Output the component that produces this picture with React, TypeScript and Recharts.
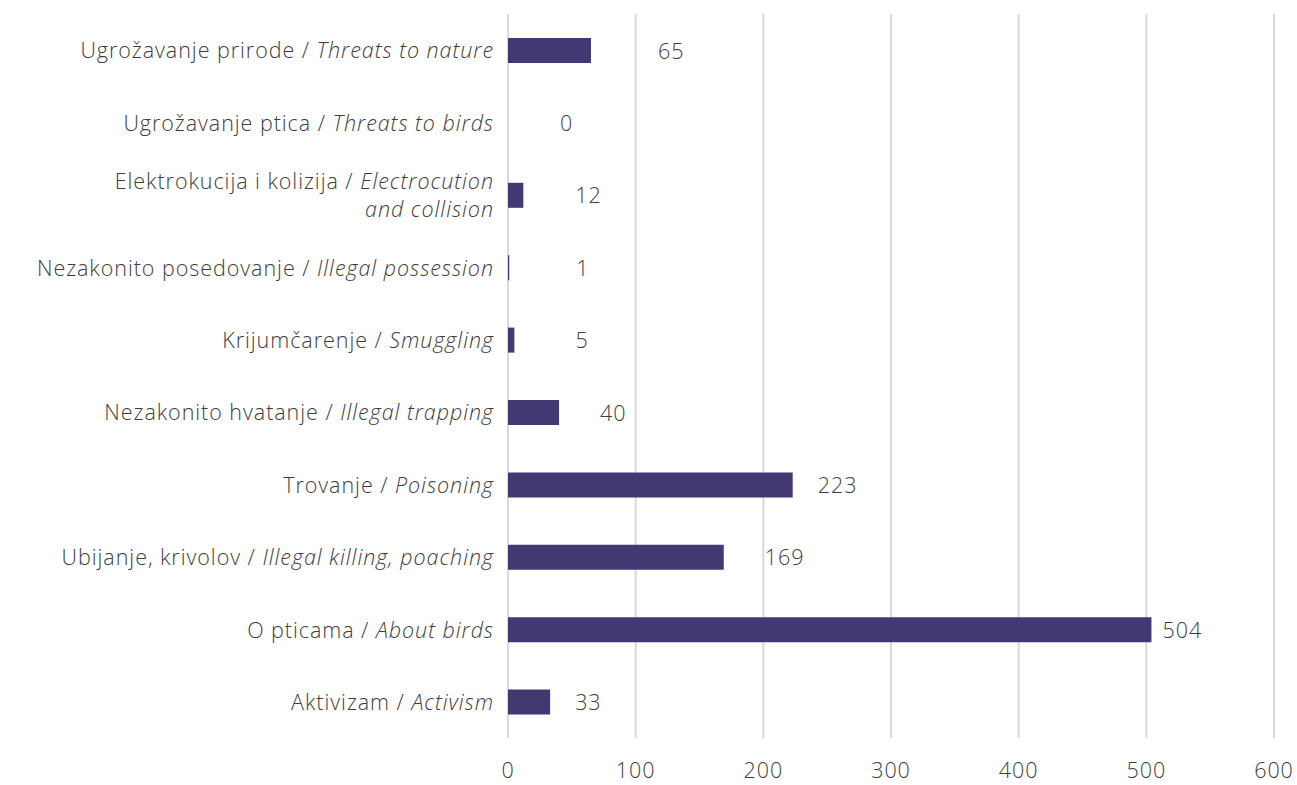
import { Bar, BarChart, CartesianGrid, LabelList, XAxis, YAxis } from "recharts";

const CATEGORIES_SR = [
  "Ugrožavanje prirode",
  "Ugrožavanje ptica",
  "Elektrokucija i kolizija",
  "Nezakonito posedovanje",
  "Krijumčarenje",
  "Nezakonito hvatanje",
  "Trovanje",
  "Ubijanje, krivolov",
  "O pticama",
  "Aktivizam",
];

const CATEGORIES_EN = [
  "Threats to nature",
  "Threats to birds",
  "Electrocution\nand collision",
  "Illegal possession",
  "Smuggling",
  "Illegal trapping",
  "Poisoning",
  "Illegal killing, poaching",
  "About birds",
  "Activism",
];

const CASES = [65, 0, 12, 1, 5, 40, 223, 169, 504, 33];

const X_TICKS = [0, 100, 200, 300, 400, 500, 600];

// how far each value label sits from its bar end (as in the original)
const LABEL_DX = [67, 52, 52, 67, 61, 41, 25, 41, 11, 25];

const data = CATEGORIES_SR.map((sr, i) => ({
  sr,
  en: CATEGORIES_EN[i],
  key: sr,
  value: CASES[i],
}));

const FONT = "'Open Sans', Lato, sans-serif";
const TEXT = "#3d3d3d";
const BAR = "#433871";
const FS = 21.5;
const LS = 0.95;

function CategoryTick(props: any) {
  const { x, y, index } = props;
  const row = data[index];
  if (!row) return null;
  const enLines = row.en.split("\n");
  const common = {
    textAnchor: "end" as const,
    fontFamily: FONT,
    fontWeight: 300,
    fontSize: FS,
    letterSpacing: LS,
    fill: TEXT,
  };
  if (enLines.length === 1) {
    return (
      <text x={x} y={y} dy="0.38em" {...common}>
        <tspan>{row.sr} / </tspan>
        <tspan fontStyle="italic">{enLines[0]}</tspan>
      </text>
    );
  }
  return (
    <text x={x} y={y} {...common}>
      <tspan x={x} dy="-0.27em">
        {row.sr} / <tspan fontStyle="italic">{enLines[0]}</tspan>
      </tspan>
      <tspan x={x} dy="1.28em" fontStyle="italic">
        {enLines.slice(1).join(" ")}
      </tspan>
    </text>
  );
}

function ValueLabel(props: any) {
  const { x, y, width, height, value, index } = props;
  return (
    <text
      x={x + width + (LABEL_DX[index] ?? 30)}
      y={y + height / 2}
      dy="0.38em"
      fontFamily={FONT}
      fontWeight={300}
      fontSize={FS}
      letterSpacing={LS}
      fill={TEXT}
    >
      {value}
    </text>
  );
}

export default function App() {
  return (
    <div style={{ position: "absolute", left: 0, top: 0, background: "#fff" }}>
      <BarChart
        width={1297}
        height={785}
        data={data}
        layout="vertical"
        margin={{ top: 14, right: 23, bottom: 0, left: 0 }}
        barCategoryGap={0}
      >
        <CartesianGrid horizontal={false} vertical stroke="#d9d9d9" strokeWidth={2} />
        <XAxis
          type="number"
          domain={[0, 600]}
          ticks={X_TICKS}
          axisLine={false}
          tickLine={false}
          height={47}
          tickMargin={19}
          tick={{
            fontFamily: FONT,
            fontWeight: 300,
            fontSize: FS,
            letterSpacing: LS,
            fill: TEXT,
          }}
          interval={0}
        />
        <YAxis
          type="category"
          dataKey="key"
          width={508}
          axisLine={false}
          tickLine={false}
          tickMargin={8}
          interval={0}
          tick={<CategoryTick />}
        />
        <Bar
          dataKey="value"
          fill={BAR}
          barSize={25}
          minPointSize={0.01}
          isAnimationActive={false}
        >
          <LabelList dataKey="value" content={<ValueLabel />} />
        </Bar>
      </BarChart>
    </div>
  );
}
